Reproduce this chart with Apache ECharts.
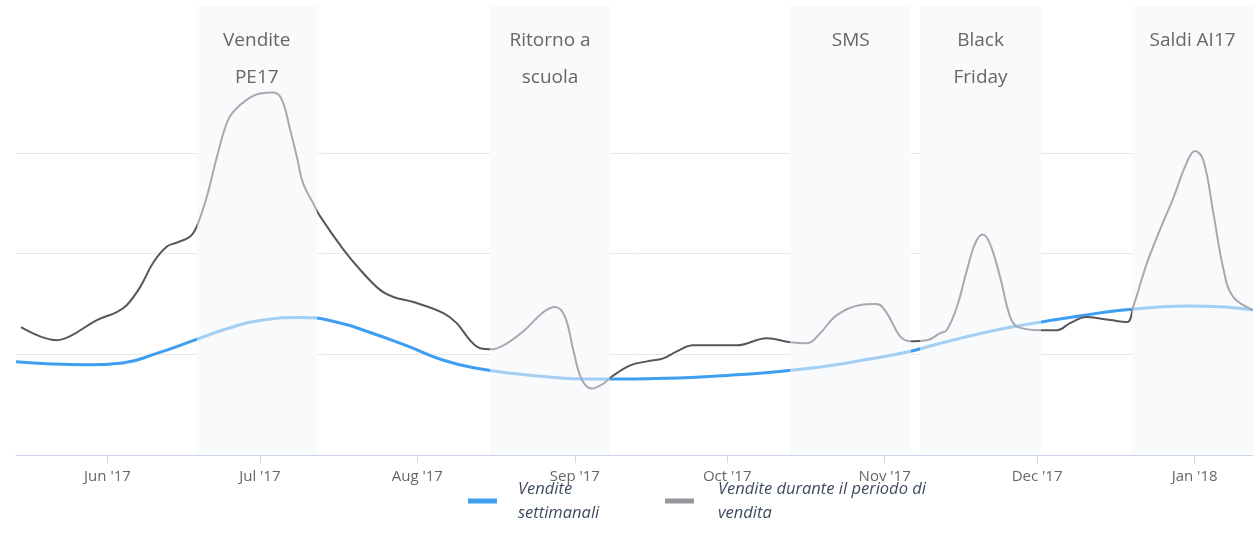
<!DOCTYPE html>
<html>
<head>
<meta charset="utf-8">
<script src="https://cdn.jsdelivr.net/npm/echarts@6/dist/echarts.min.js"></script>
<style>
html,body{margin:0;padding:0;background:#fff;}
#chart{width:1253px;height:550px;}
</style>
</head>
<body>
<div id="chart"></div>
<script>
// ---- Data ----
const weeklyDates = ['2017-05-14 00:00','2017-05-21 00:00','2017-05-28 00:00','2017-06-04 00:00','2017-06-11 00:00','2017-06-18 00:00','2017-06-25 00:00','2017-07-02 00:00','2017-07-09 00:00','2017-07-16 00:00','2017-07-23 00:00','2017-07-30 00:00','2017-08-06 00:00','2017-08-13 00:00','2017-08-20 00:00','2017-08-27 00:00','2017-09-03 00:00','2017-09-10 00:00','2017-09-17 00:00','2017-09-24 00:00','2017-10-01 00:00','2017-10-08 00:00','2017-10-15 00:00','2017-10-22 00:00','2017-10-29 00:00','2017-11-05 00:00','2017-11-12 00:00','2017-11-19 00:00','2017-11-26 00:00','2017-12-03 00:00','2017-12-10 00:00','2017-12-17 00:00','2017-12-24 00:00','2017-12-31 00:00','2018-01-07 00:00','2018-01-12 12:00'];
const weeklyValues = [0.927,0.904,0.896,0.915,1.015,1.138,1.262,1.344,1.366,1.321,1.212,1.083,0.944,0.859,0.81,0.775,0.755,0.755,0.76,0.77,0.79,0.815,0.85,0.894,0.954,1.018,1.11,1.197,1.271,1.331,1.386,1.435,1.465,1.48,1.47,1.44];

const saleDates = ['2017-05-15 00:00','2017-05-22 00:00','2017-05-24 16:00','2017-05-29 22:00','2017-06-02 20:00','2017-06-04 20:00','2017-06-07 11:00','2017-06-10 00:00','2017-06-12 17:00','2017-06-14 16:00','2017-06-17 07:00','2017-06-18 14:00','2017-06-20 14:00','2017-06-22 13:00','2017-06-24 12:00','2017-06-25 19:00','2017-06-28 11:00','2017-07-01 01:00','2017-07-03 16:00','2017-07-05 08:00','2017-07-06 23:00','2017-07-08 07:00','2017-07-09 12:00','2017-07-11 12:00','2017-07-12 21:00','2017-07-17 11:00','2017-07-20 18:00','2017-07-24 16:00','2017-07-27 07:00','2017-07-31 05:00','2017-08-06 03:00','2017-08-08 18:00','2017-08-11 09:00','2017-08-13 09:00','2017-08-15 08:00','2017-08-17 23:00','2017-08-21 21:00','2017-08-25 20:00','2017-08-28 03:00','2017-08-30 02:00','2017-08-31 17:00','2017-09-02 09:00','2017-09-04 08:00','2017-09-06 15:00','2017-09-08 07:00','2017-09-11 22:00','2017-09-15 05:00','2017-09-18 10:00','2017-09-21 02:00','2017-09-24 07:00','2017-10-02 22:00','2017-10-08 19:00','2017-10-13 10:00','2017-10-16 17:00','2017-10-19 07:00','2017-10-22 14:00','2017-10-27 05:00','2017-10-30 10:00','2017-11-01 10:00','2017-11-04 00:00','2017-11-06 00:00','2017-11-09 07:00','2017-11-11 22:00','2017-11-13 05:00','2017-11-15 05:00','2017-11-17 05:00','2017-11-18 19:00','2017-11-20 07:00','2017-11-21 17:00','2017-11-23 17:00','2017-11-25 17:00','2017-11-27 07:00','2017-12-01 14:00','2017-12-04 22:00','2017-12-07 12:00','2017-12-10 19:00','2017-12-15 10:00','2017-12-18 17:00','2017-12-19 22:00','2017-12-22 14:00','2017-12-25 05:00','2017-12-27 19:00','2017-12-30 10:00','2018-01-01 02:00','2018-01-02 17:00','2018-01-04 17:00','2018-01-06 17:00','2018-01-08 14:00','2018-01-12 12:00'];
const saleValues = [1.27,1.14,1.18,1.34,1.42,1.49,1.67,1.91,2.07,2.11,2.17,2.27,2.57,2.96,3.30,3.41,3.53,3.59,3.60,3.53,3.23,2.96,2.70,2.50,2.37,2.04,1.84,1.64,1.57,1.52,1.41,1.31,1.14,1.06,1.05,1.09,1.23,1.42,1.47,1.37,1.04,0.75,0.66,0.71,0.78,0.89,0.93,0.96,1.03,1.09,1.09,1.16,1.12,1.11,1.21,1.39,1.49,1.50,1.41,1.18,1.13,1.14,1.21,1.24,1.47,1.84,2.10,2.19,2.10,1.77,1.37,1.27,1.24,1.24,1.31,1.37,1.34,1.32,1.47,1.90,2.24,2.55,2.90,3.02,2.93,2.40,1.84,1.57,1.44];

const bandNames = ['Vendite\nPE17','Ritorno a\nscuola','SMS','Black\nFriday','Saldi AI17'];
const bandStarts = ['2017-06-18 14:00','2017-08-15 08:00','2017-10-13 10:00','2017-11-07 23:00','2017-12-19 17:00'];
const bandEnds = ['2017-07-12 05:00','2017-09-07 22:00','2017-11-06 05:00','2017-12-01 19:00','2018-01-12 12:00'];

const monthTicks = ['2017-06-01 00:00','2017-07-01 00:00','2017-08-01 00:00','2017-09-01 00:00','2017-10-01 00:00','2017-11-01 00:00','2017-12-01 00:00','2018-01-01 00:00'];
const monthLabels = ["Jun '17","Jul '17","Aug '17","Sep '17","Oct '17","Nov '17","Dec '17","Jan '18"];

const seriesNames = ['Vendite settimanali','Vendite durante il periodo di vendita'];
const legendLabels = ['Vendite\nsettimanali','Vendite durante il periodo di\nvendita'];

const xMin = '2017-05-14 00:00';
const xMax = '2018-01-12 12:00';

// ---- Helpers ----
function ts(s){ return new Date(s.replace(' ','T')).getTime(); }
function pairs(d, v){ return d.map((x,i)=>[ts(x), v[i]]); }

const monthTs = monthTicks.map(ts);
const bandPieces = (light)=>bandStarts.map((s,i)=>({gte: ts(s), lte: ts(bandEnds[i]), color: light}));

const blueDark = '#3d9ef2', blueLight = '#a3cff5';
const grayDark = '#57565f', grayLight = '#a8a8af';
const FONT = '"Open Sans", "Noto Sans", sans-serif';

const chart = echarts.init(document.getElementById('chart'));
chart.setOption({
  animation: false,
  backgroundColor: '#ffffff',
  grid: {left: 16, right: 0, top: 6, bottom: 95, containLabel: false},
  xAxis: {
    type: 'value',
    min: ts(xMin), max: ts(xMax),
    axisLine: {show: true, lineStyle: {color: '#ccd6eb', width: 1}},
    axisTick: {show: true, length: 8, lineStyle: {color: '#ccd6eb'}, customValues: monthTs},
    axisLabel: {
      customValues: monthTs,
      margin: 14,
      color: '#666666', fontSize: 15, fontFamily: FONT,
      formatter: function(v){
        const i = monthTs.findIndex(t => Math.abs(t - v) < 3600000);
        return i >= 0 ? monthLabels[i] : '';
      }
    },
    splitLine: {show: false}
  },
  yAxis: {
    type: 'value', min: 0, max: 4.46, interval: 1,
    axisLine: {show: false}, axisTick: {show: false}, axisLabel: {show: false},
    splitLine: {show: true, lineStyle: {color: ['#e8e8e8','#e8e8e8','#e8e8e8','#e8e8e8','rgba(0,0,0,0)','rgba(0,0,0,0)'], width: 1}}
  },
  legend: [
    {
      data: [{name: seriesNames[0], itemStyle: {color: blueDark}}],
      left: 468, top: 477, padding: 0,
      icon: 'rect', itemWidth: 29, itemHeight: 5,
      formatter: (n)=>legendLabels[seriesNames.indexOf(n)],
      textStyle: {color: '#3f4b5e', fontStyle: 'italic', fontSize: 16.5, fontFamily: FONT, lineHeight: 24, padding: [0,0,0,16]},
      selectedMode: false
    },
    {
      data: [{name: seriesNames[1], itemStyle: {color: '#97969f'}}],
      left: 665, top: 477, padding: 0,
      icon: 'rect', itemWidth: 29, itemHeight: 5,
      formatter: (n)=>legendLabels[seriesNames.indexOf(n)],
      textStyle: {color: '#3f4b5e', fontStyle: 'italic', fontSize: 16.5, fontFamily: FONT, lineHeight: 24, padding: [0,0,0,19]},
      selectedMode: false
    }
  ],
  visualMap: [
    {type: 'piecewise', show: false, seriesIndex: 1, dimension: 0, pieces: bandPieces(blueLight), outOfRange: {color: blueDark}},
    {type: 'piecewise', show: false, seriesIndex: 2, dimension: 0, pieces: bandPieces(grayLight), outOfRange: {color: grayDark}}
  ],
  series: [
    {
      type: 'line', name: 'bands', data: [], z: 0, silent: true,
      markArea: {
        silent: true,
        itemStyle: {color: '#f9fafb'},
        label: {show: true, position: 'insideTop', distance: 16, color: '#666666', fontSize: 19, lineHeight: 37, fontFamily: FONT, align: 'center'},
        data: bandNames.map((n,i)=>[{name: n, xAxis: ts(bandStarts[i])},{xAxis: ts(bandEnds[i])}])
      }
    },
    {
      type: 'line', name: seriesNames[0], data: pairs(weeklyDates, weeklyValues),
      smooth: 0.5, showSymbol: false, symbol: 'none', z: 3,
      itemStyle: {color: blueDark},
      lineStyle: {width: 3}
    },
    {
      type: 'line', name: seriesNames[1], data: pairs(saleDates, saleValues),
      smooth: 0.4, showSymbol: false, symbol: 'none', z: 4,
      itemStyle: {color: grayDark},
      lineStyle: {width: 2}
    }
  ]
});
</script>
</body>
</html>
